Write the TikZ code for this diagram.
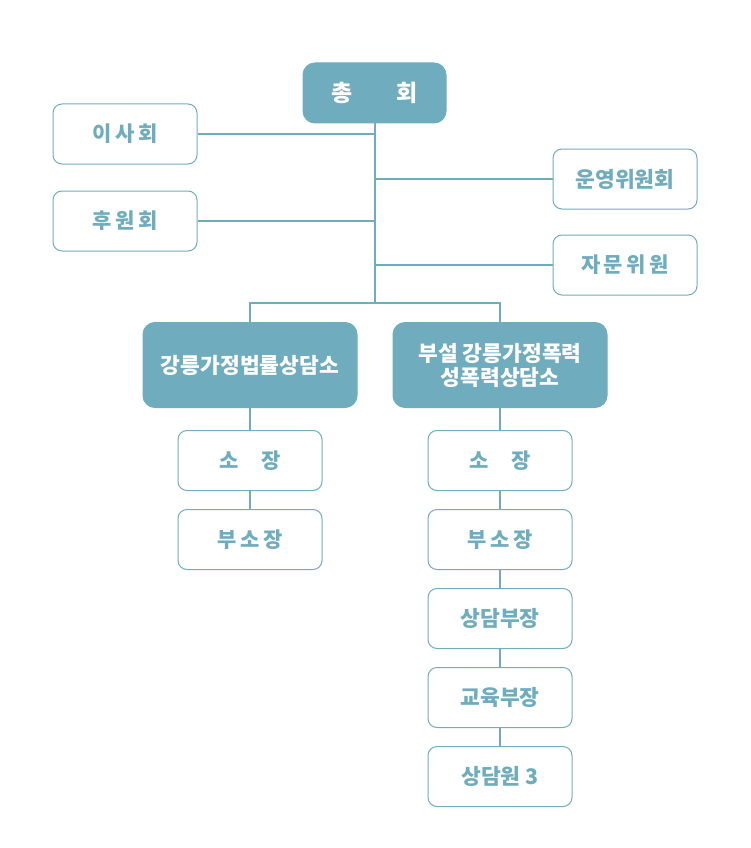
\documentclass[tikz,border=0pt]{standalone}
\usepackage{fontspec}
\setmainfont{Noto Sans CJK KR}
\usetikzlibrary{positioning}
\definecolor{orgteal}{HTML}{6FADBE}
\tikzset{
  basic/.style  = {rectangle, line width=1pt, align=center, inner sep=2pt},
  top/.style    = {basic, fill=orgteal, draw=orgteal, text=white, rounded corners=12pt,
                   minimum width=143pt, minimum height=60pt, font=\fontsize{23}{26}\selectfont\bfseries},
  center/.style = {basic, fill=orgteal, draw=orgteal, text=white, rounded corners=12pt,
                   minimum width=214pt, minimum height=85pt, font=\fontsize{21.5}{27}\selectfont\bfseries},
  side/.style   = {basic, draw=orgteal, fill=white, text=orgteal, rounded corners=9pt,
                   minimum width=144pt, minimum height=60pt, font=\fontsize{21}{24}\selectfont\bfseries},
  staff/.style  = {side, font=\fontsize{21.5}{24}\selectfont\bfseries},
  link/.style   = {draw=orgteal, line width=1.5pt}
}

\begin{document}
\begin{tikzpicture}[x=1pt,y=-1pt]
\useasboundingbox (0,0) rectangle (750,848);

% top level
\node[top] (gen) at (374.5,93) {총\hspace{1.9em}회};

% board and committees
\node[side] (board) at (125,134) {이\,사\,회};
\node[side] (supp)  at (125,221) {후\,원\,회};
\node[staff] (oper) at (625,179) {운영위원회};
\node[side] (advi)  at (625,265) {자\,문\,위\,원};

% the two centres
\node[center] (law) at (250,365) {강릉가정법률상담소};
\node[center] (vio) at (500,365) {부설 강릉가정폭력\\[-3pt]성폭력상담소};

% staff of the law centre
\node[side, below=22pt of law] (l1) {소\hspace{1.1em}장};
\node[side, below=18pt of l1] (l2) {부\,소\,장};

% staff of the violence centre
\node[side, below=22pt of vio] (r1) {소\hspace{1.1em}장};
\node[side, below=18pt of r1] (r2) {부\,소\,장};
\node[staff, below=18pt of r2] (r3) {상담부장};
\node[staff, below=18pt of r3] (r4) {교육부장};
\node[staff, below=18pt of r4] (r5) {상담원 3};

% connectors
\coordinate (split) at (375,303);
\draw[link] (gen.south -| split) -- (split);
\draw[link] (board) -- (board -| split);
\draw[link] (supp) -- (supp -| split);
\draw[link] (oper) -- (oper -| split);
\draw[link] (advi) -- (advi -| split);
\draw[link] (law.north) |- (split) -| (vio.north);
\draw[link] (law) -- (l1) -- (l2);
\draw[link] (vio) -- (r1) -- (r2) -- (r3) -- (r4) -- (r5);
\end{tikzpicture}
\end{document}
